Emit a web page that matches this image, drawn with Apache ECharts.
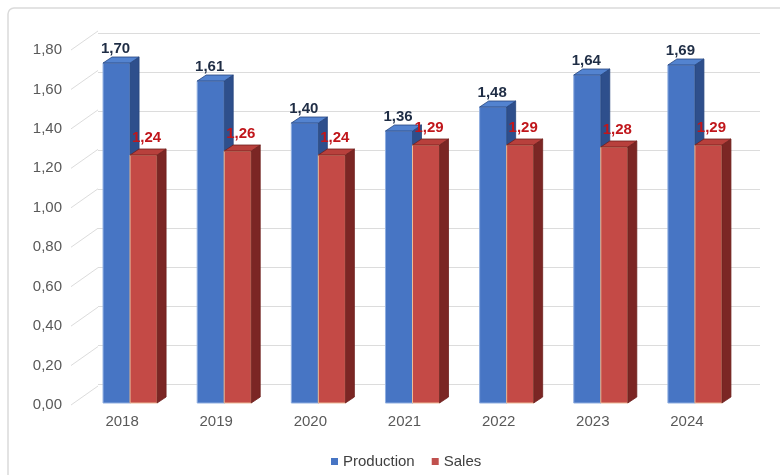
<!DOCTYPE html>
<html>
<head>
<meta charset="utf-8">
<script src="https://cdn.jsdelivr.net/npm/echarts@6/dist/echarts.min.js"></script>
<style>
  html, body { margin: 0; padding: 0; background: #fff; }
  #chart { width: 780px; height: 475px; }
</style>
</head>
<body>
<div id="chart"></div>
<script>
const years = ['2018', '2019', '2020', '2021', '2022', '2023', '2024'];
const production = [1.70, 1.61, 1.40, 1.36, 1.48, 1.64, 1.69];
const sales = [1.24, 1.26, 1.24, 1.29, 1.29, 1.28, 1.29];
const yTicks = [0, 0.2, 0.4, 0.6, 0.8, 1.0, 1.2, 1.4, 1.6, 1.8];

const DX = 9, DY = 6; // depth of the 3d bars
const font = '"Liberation Sans", Arial, sans-serif';

function fmt(v) {
  return v.toFixed(2).replace('.', ',');
}

// one 3d bar: front face, top face, side face and its value label
function bar3d(side, c) {
  return function (params, api) {
    const cat = api.value(0), v = api.value(1);
    const top = api.coord([cat, v]);
    const base = api.coord([cat, 0]);
    const w = api.size([1, 0])[0] * 0.287;
    const x0 = side === 'left' ? top[0] - w : top[0];
    const x1 = x0 + w;
    const yt = top[1], yb = base[1];
    return {
      type: 'group',
      children: [
        { type: 'rect', shape: { x: x0, y: yt, width: w, height: yb - yt },
          style: { fill: c.front, stroke: c.edge, lineWidth: 1 } },
        { type: 'polygon', shape: { points: [[x1, yt], [x1 + DX, yt - DY], [x1 + DX, yb - DY], [x1, yb]] },
          style: { fill: c.side, stroke: c.dark, lineWidth: 0.8 } },
        { type: 'polygon', shape: { points: [[x0, yt], [x1, yt], [x1 + DX, yt - DY], [x0 + DX, yt - DY]] },
          style: { fill: c.top, stroke: c.dark, lineWidth: 0.8 } },
        { type: 'text',
          style: { text: fmt(v), x: x0 + w / 2 + c.lx, y: yt - DY - c.ly,
                   textAlign: 'center', textVerticalAlign: 'bottom',
                   fill: c.label, font: 'bold 15px ' + font } }
      ]
    };
  };
}

const chart = echarts.init(document.getElementById('chart'));
const option = {
  animation: false,
  backgroundColor: '#fff',
  graphic: [
    { type: 'rect', shape: { x: 8, y: 8, width: 800, height: 500, r: 6 },
      style: { fill: 'none', stroke: '#DADADA', lineWidth: 1.5 }, z: -1 }
  ],
  legend: {
    data: ['Production', 'Sales'],
    left: 326,
    top: 449,
    icon: 'rect',
    itemWidth: 7,
    itemHeight: 7,
    itemGap: 17,
    textStyle: { color: '#404040', fontSize: 15, fontFamily: font }
  },
  grid: [
    { left: 83, right: 38, top: 43, bottom: 72 },  // bars
    { left: 98, right: 20, top: 33, bottom: 91 },  // back wall
    { left: 68, right: 20, top: 50, bottom: 70 }   // y labels
  ],
  xAxis: [
    { gridIndex: 0, type: 'category', data: years,
      axisLine: { show: false }, axisTick: { show: false },
      axisLabel: { color: '#595959', fontSize: 15, fontFamily: font, margin: 11,
                   padding: [0, 16, 0, 0] } },
    { gridIndex: 1, type: 'value', min: 0, max: 1, show: false },
    { gridIndex: 2, type: 'value', min: 0, max: 1, show: false }
  ],
  yAxis: [
    { gridIndex: 0, type: 'value', min: 0, max: 1.8, show: false },
    { gridIndex: 1, type: 'value', min: 0, max: 1.8, interval: 0.2,
      axisLine: { show: false }, axisTick: { show: false }, axisLabel: { show: false },
      splitLine: { lineStyle: { color: '#DCDCDC', width: 1 } } },
    { gridIndex: 2, type: 'value', min: 0, max: 1.8, interval: 0.2,
      axisLine: { show: false }, axisTick: { show: false }, splitLine: { show: false },
      axisLabel: { color: '#595959', fontSize: 15, fontFamily: font, margin: 6,
                   formatter: v => fmt(v) } }
  ],
  series: [
    {
      // diagonal lines from the labels to the back wall
      type: 'custom', xAxisIndex: 2, yAxisIndex: 2, silent: true,
      data: yTicks.map(t => [0, t]),
      renderItem: function (params, api) {
        const p = api.coord([0, api.value(1)]);
        return { type: 'line', shape: { x1: p[0] + 3, y1: p[1], x2: p[0] + 30, y2: p[1] - 19 },
                 style: { stroke: '#DCDCDC', lineWidth: 1 } };
      }
    },
    {
      name: 'Production', type: 'custom', xAxisIndex: 0, yAxisIndex: 0,
      itemStyle: { color: '#4775C4' },
      data: production.map((v, i) => [i, v]),
      renderItem: bar3d('left', { front: '#4775C4', top: '#5383D0', side: '#2E4F8C',
        dark: '#26457D', edge: '#8FAEE0', label: '#1F2D45', lx: -1, ly: 1 })
    },
    {
      name: 'Sales', type: 'custom', xAxisIndex: 0, yAxisIndex: 0,
      itemStyle: { color: '#C0504D' },
      data: sales.map((v, i) => [i, v]),
      renderItem: bar3d('right', { front: '#C44A46', top: '#B8403C', side: '#7B2624',
        dark: '#6E1F1D', edge: '#EDBB98', label: '#C0161B', lx: 3, ly: 4 })
    }
  ]
};
chart.setOption(option);
</script>
</body>
</html>
